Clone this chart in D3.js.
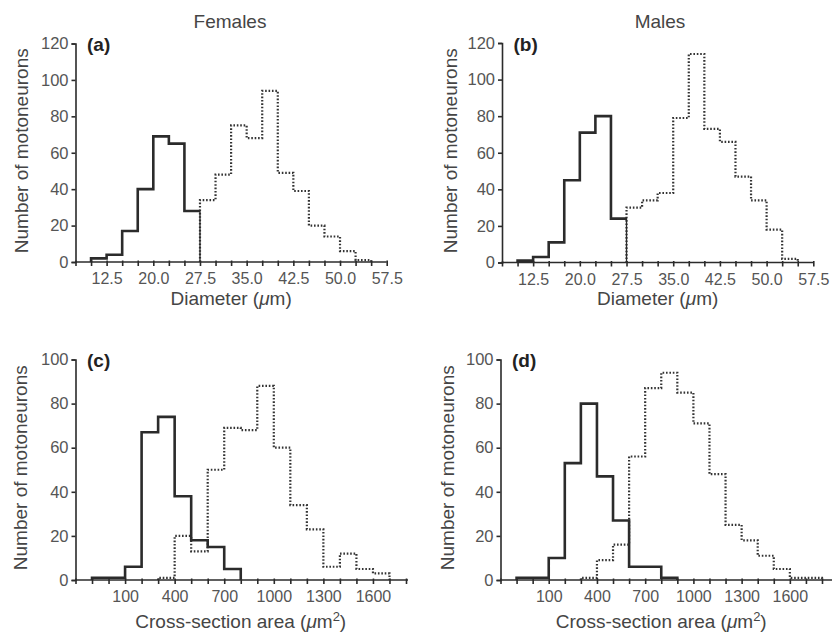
<!DOCTYPE html>
<html>
<head>
<meta charset="utf-8">
<script src="https://cdn.jsdelivr.net/npm/d3@7"></script>
<style>
  body { margin: 0; background: #fff; }
  svg { font-family: "Liberation Sans", Arial, sans-serif; }
</style>
</head>
<body>
<svg id="chart" width="832" height="634"></svg>
<script>
// Bin counts (solid = small cells, dotted = large cells)
const diamBinWidth = 2.5;
const areaBinWidth = 100;

const femaleDiamSolidStart = 10;
const femaleDiamSolid = [2, 4, 17, 40, 69, 65, 28];
const femaleDiamDottedStart = 27.5;
const femaleDiamDotted = [34, 48, 75, 68, 94, 49, 39, 20, 14, 6, 1];

const maleDiamSolidStart = 10;
const maleDiamSolid = [1, 3, 11, 45, 71, 80, 24];
const maleDiamDottedStart = 27.5;
const maleDiamDotted = [30, 34, 38, 79, 114, 73, 66, 47, 34, 18, 2];

const femaleAreaSolidStart = -100;
const femaleAreaSolid = [1, 1, 6, 67, 74, 38, 18, 15, 5];
const femaleAreaDottedStart = 300;
const femaleAreaDotted = [1, 20, 13, 50, 69, 68, 88, 60, 34, 23, 6, 12, 5, 3];

const maleAreaSolidStart = -100;
const maleAreaSolid = [1, 1, 10, 53, 80, 47, 27, 6, 6, 1];
const maleAreaDottedStart = 300;
const maleAreaDotted = [1, 9, 16, 56, 87, 94, 85, 71, 48, 25, 18, 11, 5, 1, 1];

// Tick labels
const diamTickLabels = [12.5, 20.0, 27.5, 35.0, 42.5, 50.0, 57.5];
const areaTickLabels = [100, 400, 700, 1000, 1300, 1600];
const diamYTicks = [0, 20, 40, 60, 80, 100, 120];
const areaYTicks = [0, 20, 40, 60, 80, 100];

const columnTitles = ['Females', 'Males'];

const svg = d3.select('#chart');
const ink = '#2b2b2b';
const textInk = '#454545';

// column headers
svg.append('text').attr('x', 230).attr('y', 28).attr('text-anchor', 'middle')
  .attr('font-size', 19).attr('fill', textInk).text(columnTitles[0]);
svg.append('text').attr('x', 660).attr('y', 28).attr('text-anchor', 'middle')
  .attr('font-size', 19).attr('fill', textInk).text(columnTitles[1]);

const panels = [
  { tag: '(a)', left: 75.5, right: 386.7, top: 43.5, bottom: 262, xDomain: [7.5, 57.5], step: diamBinWidth,
    yTicks: diamYTicks, labels: diamTickLabels, fmt: d3.format('.1f'),
    solid: [femaleDiamSolidStart, femaleDiamSolid], dotted: [femaleDiamDottedStart, femaleDiamDotted],
    ylabX: 22, xlabY: 305, area: false, lineEnd: 386.7, thinEnd: true },
  { tag: '(b)', left: 502, right: 813.3, top: 43, bottom: 262.5, xDomain: [7.5, 57.5], step: diamBinWidth,
    yTicks: diamYTicks, labels: diamTickLabels, fmt: d3.format('.1f'),
    solid: [maleDiamSolidStart, maleDiamSolid], dotted: [maleDiamDottedStart, maleDiamDotted],
    ylabX: 451, xlabY: 305, area: false, lineEnd: 813.3, thinEnd: true },
  { tag: '(c)', left: 75.5, right: 406, top: 359.5, bottom: 580, xDomain: [-200, 1800], step: areaBinWidth,
    yTicks: areaYTicks, labels: areaTickLabels, fmt: d3.format('d'),
    solid: [femaleAreaSolidStart, femaleAreaSolid], dotted: [femaleAreaDottedStart, femaleAreaDotted],
    ylabX: 21, xlabY: 628, area: true, lineEnd: 408, thinEnd: false },
  { tag: '(d)', left: 500.5, right: 822, top: 359.5, bottom: 580, xDomain: [-200, 1800], step: areaBinWidth,
    yTicks: areaYTicks, labels: areaTickLabels, fmt: d3.format('d'),
    solid: [maleAreaSolidStart, maleAreaSolid], dotted: [maleAreaDottedStart, maleAreaDotted],
    ylabX: 448, xlabY: 628, area: true, lineEnd: 832, thinEnd: false }
];

function steps(start, w, vals, close) {
  const pts = [[start, 0]];
  vals.forEach((v, i) => pts.push([start + i * w, v]));
  pts.push([start + vals.length * w, close ? 0 : vals[vals.length - 1]]);
  return pts;
}

panels.forEach(p => {
  const x = d3.scaleLinear().domain(p.xDomain).range([p.left, p.right]);
  const yMax = p.yTicks[p.yTicks.length - 1];
  const y = d3.scaleLinear().domain([0, yMax]).range([p.bottom, p.top]);
  const g = svg.append('g');

  // histogram outlines
  const line = d3.line().x(d => x(d[0])).y(d => y(d[1])).curve(d3.curveStepAfter);
  g.append('path')
    .attr('d', line(steps(p.dotted[0], p.step, p.dotted[1], true)))
    .attr('fill', 'none').attr('stroke', '#333').attr('stroke-width', 2.2)
    .attr('stroke-dasharray', '1.6,1.8');
  const sv = p.solid[1];
  const sEnd = p.solid[0] + sv.length * p.step;
  g.append('path')
    .attr('d', line(steps(p.solid[0], p.step, sv, !p.thinEnd)))
    .attr('fill', 'none').attr('stroke', ink).attr('stroke-width', 2.6);
  if (p.thinEnd) {
    g.append('line')
      .attr('x1', x(sEnd)).attr('x2', x(sEnd))
      .attr('y1', y(sv[sv.length - 1]) - 1.3).attr('y2', y(0))
      .attr('stroke', ink).attr('stroke-width', 1.3);
  }

  // x axis
  const minor = d3.range(p.xDomain[0], p.xDomain[1] + p.step / 2, p.step);
  const xAxis = d3.axisBottom(x).tickValues(minor).tickSizeOuter(0).tickSize(4)
    .tickFormat(d => p.labels.some(l => Math.abs(l - d) < 1e-6) ? p.fmt(d) : '');
  const xg = g.append('g').attr('transform', `translate(0,${p.bottom})`).call(xAxis);
  xg.select('.domain').remove();
  xg.append('line').attr('x1', p.left).attr('x2', p.lineEnd).attr('y1', 0).attr('y2', 0)
    .attr('stroke', ink).attr('stroke-width', 1.6);
  xg.selectAll('.tick line').attr('y1', -1.5).attr('y2', 4).attr('stroke', ink).attr('stroke-width', 1.6);
  xg.selectAll('.tick text').attr('y', 11).attr('font-size', 16).attr('fill', '#555')
    .attr('font-family', '"Liberation Sans", Arial, sans-serif');

  // y axis
  const yAxis = d3.axisLeft(y).tickValues(p.yTicks).tickSizeOuter(0).tickSize(4).tickPadding(3);
  const yg = g.append('g').attr('transform', `translate(${p.left},0)`).call(yAxis);
  yg.select('.domain').attr('stroke', ink).attr('stroke-width', 1.6);
  yg.selectAll('.tick line').attr('stroke', ink).attr('stroke-width', 1.6);
  yg.selectAll('.tick text').attr('font-size', 16.5).attr('fill', '#555')
    .attr('font-family', '"Liberation Sans", Arial, sans-serif');

  // y label
  g.append('text')
    .attr('transform', `translate(${p.ylabX + 6},${(p.top + p.bottom) / 2 - 2}) rotate(-90)`)
    .attr('text-anchor', 'middle').attr('font-size', 19).attr('fill', textInk)
    .text('Number of motoneurons');

  // x label
  const xl = g.append('text').attr('x', (p.left + p.right) / 2).attr('y', p.xlabY)
    .attr('text-anchor', 'middle').attr('font-size', 19).attr('fill', textInk);
  if (p.area) {
    xl.append('tspan').text('Cross-section area (');
    xl.append('tspan').attr('font-style', 'italic').text('\u03bc');
    xl.append('tspan').text('m');
    xl.append('tspan').attr('dy', -7).attr('font-size', 13).text('2');
    xl.append('tspan').attr('dy', 7).text(')');
  } else {
    xl.append('tspan').text('Diameter (');
    xl.append('tspan').attr('font-style', 'italic').text('\u03bc');
    xl.append('tspan').text('m)');
  }

  // panel tag
  g.append('text').attr('x', p.left + 11.5).attr('y', p.top + 7.5)
    .attr('font-size', 19).attr('font-weight', 'bold').attr('fill', '#222').text(p.tag);
});
</script>
</body>
</html>
